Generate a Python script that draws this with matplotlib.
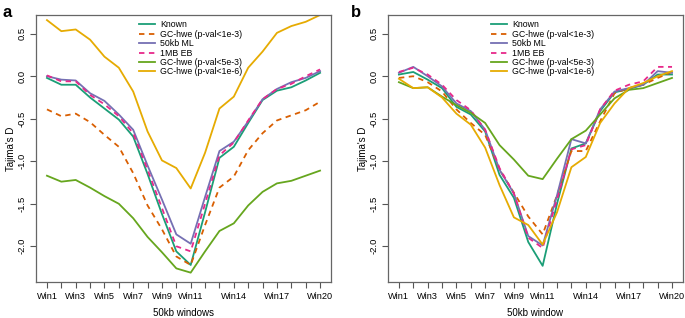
import matplotlib
matplotlib.use("Agg")
import matplotlib.pyplot as plt
import numpy as np

plt.rcParams["font.family"] = ["Liberation Sans", "DejaVu Sans"]

windows = np.arange(1, 21)
tick_labels = {1: "Win1", 3: "Win3", 5: "Win5", 7: "Win7", 9: "Win9",
               11: "Win11", 14: "Win14", 17: "Win17", 20: "Win20"}

series_names = ["Known", "GC-hwe (p-val<1e-3)", "50kb ML", "1MB EB",
                "GC-hwe (p-val<5e-3)", "GC-hwe (p-val<1e-6)"]
colors = ["#1B9E77", "#D95F02", "#7570B3", "#E7298A", "#66A61E", "#E6AB02"]
dashed = [False, True, False, True, False, False]

# panel a: Tajima's D per window
a_known = [-0.02, -0.10, -0.10, -0.25, -0.38, -0.51, -0.71, -1.15, -1.62, -2.06,
           -2.22, -1.60, -0.96, -0.83, -0.55, -0.28, -0.17, -0.13, -0.05, 0.04]
a_gc3 = [-0.39, -0.47, -0.44, -0.54, -0.69, -0.83, -1.14, -1.52, -1.80, -2.12,
         -2.22, -1.75, -1.31, -1.18, -0.87, -0.67, -0.52, -0.46, -0.40, -0.30]
a_ml = [0.00, -0.04, -0.05, -0.20, -0.29, -0.45, -0.63, -1.05, -1.45, -1.86,
        -1.97, -1.42, -0.88, -0.77, -0.53, -0.27, -0.15, -0.07, -0.02, 0.06]
a_eb = [0.01, -0.06, -0.06, -0.22, -0.33, -0.47, -0.67, -1.10, -1.55, -2.00,
        -2.06, -1.50, -0.93, -0.78, -0.52, -0.27, -0.15, -0.09, 0.00, 0.08]
a_gc5 = [-1.17, -1.24, -1.22, -1.31, -1.41, -1.50, -1.67, -1.89, -2.07, -2.26,
         -2.31, -2.06, -1.82, -1.73, -1.52, -1.36, -1.26, -1.23, -1.17, -1.11]
a_gc6 = [0.66, 0.53, 0.55, 0.43, 0.23, 0.10, -0.18, -0.65, -0.99, -1.08,
         -1.32, -0.90, -0.38, -0.24, 0.10, 0.29, 0.51, 0.59, 0.64, 0.72]

# panel b
b_known = [0.02, 0.05, -0.04, -0.14, -0.36, -0.45, -0.65, -1.16, -1.43, -1.95,
           -2.23, -1.50, -0.85, -0.79, -0.41, -0.19, -0.15, -0.10, 0.02, 0.02]
b_gc3 = [-0.02, 0.00, -0.07, -0.18, -0.39, -0.55, -0.69, -1.10, -1.37, -1.65,
         -1.86, -1.40, -0.88, -0.88, -0.53, -0.20, -0.14, -0.10, -0.02, 0.05]
b_ml = [0.04, 0.11, 0.00, -0.12, -0.32, -0.41, -0.63, -1.10, -1.38, -1.88,
        -1.99, -1.40, -0.74, -0.79, -0.39, -0.18, -0.14, -0.10, 0.06, 0.04]
b_eb = [0.05, 0.10, 0.02, -0.10, -0.28, -0.40, -0.63, -1.08, -1.38, -1.90,
        -2.02, -1.45, -0.86, -0.81, -0.39, -0.17, -0.10, -0.06, 0.11, 0.11]
b_gc5 = [-0.07, -0.14, -0.13, -0.24, -0.34, -0.43, -0.55, -0.81, -0.98, -1.17,
         -1.21, -0.97, -0.74, -0.64, -0.45, -0.26, -0.16, -0.14, -0.08, -0.02]
b_gc6 = [-0.03, -0.14, -0.13, -0.25, -0.44, -0.57, -0.84, -1.28, -1.66, -1.75,
         -1.98, -1.60, -1.07, -0.95, -0.55, -0.32, -0.14, -0.08, 0.00, 0.06]

panels = [
    ("a", "50kb windows", [a_known, a_gc3, a_ml, a_eb, a_gc5, a_gc6]),
    ("b", "50kb window", [b_known, b_gc3, b_ml, b_eb, b_gc5, b_gc6]),
]

fig = plt.figure(figsize=(6.85, 3.18), dpi=100)
ax_rects = [[0.0526, 0.1132, 0.4306, 0.8396], [0.5664, 0.1132, 0.4306, 0.8396]]
label_x = [0.004, 0.513]

for (letter, xlabel, data), rect, lx in zip(panels, ax_rects, label_x):
    ax = fig.add_axes(rect)
    for vals, name, col, dsh in zip(data, series_names, colors, dashed):
        if dsh:
            ax.plot(windows, vals, color=col, lw=1.3, label=name, dashes=(3, 2.5))
        else:
            ax.plot(windows, vals, color=col, lw=1.3, label=name)

    ax.set_xlim(0.24, 20.76)
    ax.set_ylim(-2.42, 0.72)
    ax.set_xticks(windows)
    ax.set_xticklabels([tick_labels.get(w, "") for w in windows], fontsize=6.6)
    ax.set_yticks([-2.0, -1.5, -1.0, -0.5, 0.0, 0.5])
    ax.set_yticklabels(["-2.0", "-1.5", "-1.0", "-0.5", "0.0", "0.5"],
                       fontsize=6.8, rotation=90, va="center")
    ax.tick_params(direction="out", length=4, width=0.8, color="#555555",
                   pad=3)
    for sp in ax.spines.values():
        sp.set_color("#666666")
        sp.set_linewidth(0.9)
    ax.set_xlabel(xlabel, fontsize=7, labelpad=5)
    ax.set_ylabel("Tajima's D", fontsize=7, labelpad=1)

    ax.legend(loc="upper left", bbox_to_anchor=(0.33, 1.0), frameon=False,
              fontsize=6.3, labelspacing=0.05, handlelength=1.9,
              handletextpad=0.6, borderaxespad=0.2)

    fig.text(lx, 0.985, letter, fontsize=12, fontweight="bold", va="top")

fig.savefig("out.png", dpi=100)
